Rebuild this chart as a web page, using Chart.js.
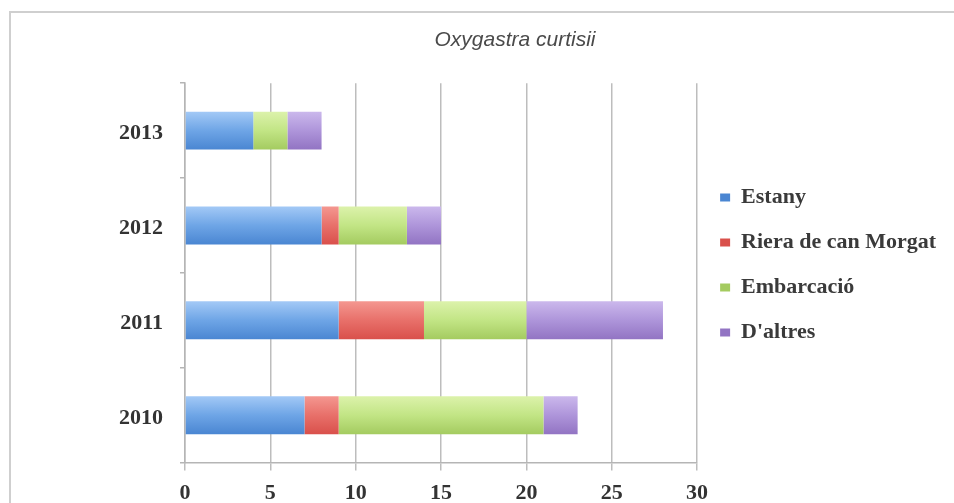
<!DOCTYPE html>
<html>
<head>
<meta charset="utf-8">
<script src="https://cdn.jsdelivr.net/npm/chart.js@4.4.1/dist/chart.umd.min.js"></script>
<style>
  html, body { margin: 0; padding: 0; overflow: hidden; background: #ffffff; width: 954px; height: 503px; }
  #frame { position: absolute; left: 9px; top: 11px; width: 1200px; height: 800px; border: 2px solid #cfcfcf; box-sizing: border-box; }
  #wrap { position: absolute; left: 0; top: 0; width: 1000px; height: 524px; }
</style>
</head>
<body>
<div id="frame"></div>
<div id="wrap"><canvas id="chart"></canvas></div>
<script>
// Observations of Oxygastra curtisii per year and place
const years = ['2013', '2012', '2011', '2010'];
const estany = [4, 8, 9, 7];
const riera = [0, 1, 5, 2];
const embarcacio = [2, 4, 6, 12];
const daltres = [2, 2, 8, 2];
const seriesNames = ['Estany', 'Riera de can Morgat', 'Embarcació', "D'altres"];
const xMin = 0, xMax = 30, xStep = 5;

const BAR_SHARE = 0.4;
const serif = "'Liberation Serif', 'Times New Roman', serif";

// Vertical light-to-dark fill across each bar
function shaded(light, dark, flat) {
  return (c) => {
    if (c.type !== 'data') return flat;
    const chart = c.chart, area = chart.chartArea, ys = chart.scales.y;
    if (!area || !ys) return flat;
    const half = (area.height / years.length) * BAR_SHARE / 2;
    const centre = ys.getPixelForValue(c.dataIndex);
    const g = chart.ctx.createLinearGradient(0, centre - half, 0, centre + half);
    g.addColorStop(0, light);
    g.addColorStop(0.5, flat);
    g.addColorStop(1, dark);
    return g;
  };
}

const palette = [
  ['#a3c9f6', '#4a86d2', '#6ea5e6'],
  ['#f49790', '#d9504b', '#e8706a'],
  ['#dcf2ab', '#a4cb60', '#c2e585'],
  ['#cbb8ec', '#9274c3', '#ae95da']
];
const values = [estany, riera, embarcacio, daltres];

const datasets = seriesNames.map((name, i) => ({
  label: name,
  data: values[i],
  backgroundColor: shaded(palette[i][0], palette[i][1], palette[i][2]),
  borderWidth: 0,
  categoryPercentage: 1,
  barPercentage: BAR_SHARE
}));

new Chart(document.getElementById('chart'), {
  type: 'bar',
  data: { labels: years, datasets },
  options: {
    indexAxis: 'y',
    responsive: true,
    maintainAspectRatio: false,
    animation: false,
    layout: { padding: { top: 13, bottom: 7, left: 84, right: 54 } },
    scales: {
      x: {
        stacked: true,
        min: xMin,
        max: xMax,
        ticks: { stepSize: xStep, padding: 10, color: '#333333', font: { family: serif, size: 22, weight: 'bold' } },
        grid: { color: '#bdbdbd', lineWidth: 1.5, tickLength: 8 },
        border: { color: '#b5b5b5', width: 1.5 }
      },
      y: {
        stacked: true,
        afterFit: (s) => { s.width = 101; },
        ticks: { padding: 17, labelOffset: 3, color: '#333333', font: { family: serif, size: 22, weight: 'bold' } },
        grid: { drawOnChartArea: false, tickLength: 5, color: '#b5b5b5', lineWidth: 1.5 },
        border: { color: '#b5b5b5', width: 1.5 }
      }
    },
    plugins: {
      title: {
        display: true,
        text: 'Oxygastra curtisii',
        color: '#4a4a4a',
        font: { family: "'Liberation Sans', Arial, sans-serif", size: 21, style: 'italic', weight: 'normal' },
        padding: { top: 15, bottom: 30 }
      },
      legend: {
        position: 'right',
        align: 'center',
        maxWidth: 250,
        labels: {
          boxWidth: 10,
          boxHeight: 8,
          padding: 23,
          color: '#3a3a3a',
          font: { family: serif, size: 22, weight: 'bold' }
        }
      },
      tooltip: { enabled: false }
    }
  }
});
</script>
</body>
</html>
